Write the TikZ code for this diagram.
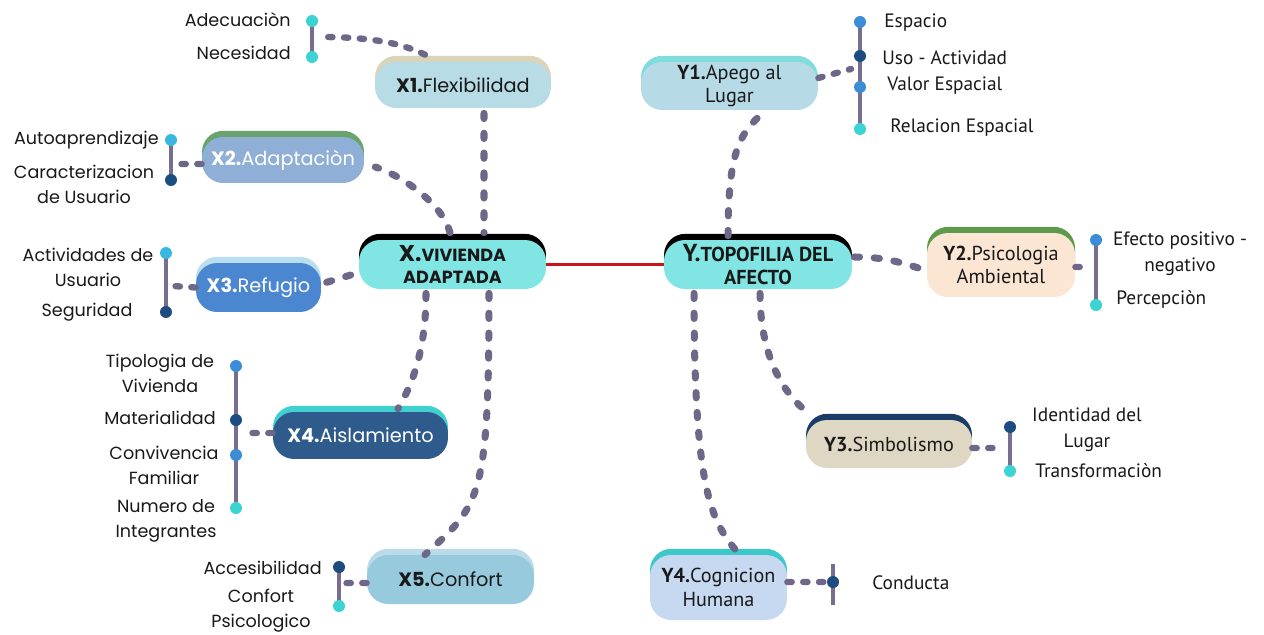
\documentclass[tikz,border=0pt]{standalone}
\usepackage{fontspec}
\setmainfont{Poppins}
\newfontfamily\condfont{PT Sans}
\usetikzlibrary{backgrounds}

% 颜色定义
\definecolor{linkGray}{HTML}{6F6788}
\definecolor{barGray}{HTML}{776E8F}
\definecolor{redLine}{HTML}{C4161C}
\definecolor{dotCyan}{HTML}{3CD3D3}
\definecolor{dotSky}{HTML}{38B7E3}
\definecolor{dotBlue}{HTML}{3A8DD6}
\definecolor{dotNavy}{HTML}{1D4C80}
\definecolor{coreFill}{HTML}{80E5E3}
\definecolor{flexFill}{HTML}{B8DCE6}
\definecolor{flexTop}{HTML}{D9D4BA}
\definecolor{adapFill}{HTML}{8FAFD7}
\definecolor{adapTop}{HTML}{6BA36D}
\definecolor{refuFill}{HTML}{4A87D0}
\definecolor{refuTop}{HTML}{BBDDF0}
\definecolor{aislFill}{HTML}{2F5A8C}
\definecolor{aislTop}{HTML}{40D0D0}
\definecolor{confFill}{HTML}{98CADE}
\definecolor{confTop}{HTML}{BCDBE8}
\definecolor{apegFill}{HTML}{B7DBE6}
\definecolor{apegTop}{HTML}{80DCDD}
\definecolor{psicFill}{HTML}{FBE6D4}
\definecolor{psicTop}{HTML}{5E9A4C}
\definecolor{simbFill}{HTML}{DDD7C4}
\definecolor{simbTop}{HTML}{1C3C68}
\definecolor{cogFill}{HTML}{C6D9F1}
\definecolor{cogTop}{HTML}{3DC9C9}

\begin{document}
\begin{tikzpicture}[
        % 坐标单位:1 = 参考图 1 像素 (y 向下)
        x=0.02cm, y=-0.02cm,
        pill/.style 2 args={rounded corners=12pt, fill=#1, inner sep=0pt, align=center,
            text=black!90, font=\fontsize{11}{13}\selectfont,
            preaction={fill=#2, transform canvas={yshift=3.5pt}}},
        pillY/.style={font=\condfont\fontsize{11.5}{13.5}\selectfont},
        dot/.style={circle, fill=#1, inner sep=0pt, minimum size=0.24cm},
        bar/.style={line width=2.2pt, barGray},
        % 虚线连线:圆头短划
        link/.style={line width=4pt, linkGray, line cap=round, dash pattern=on 3pt off 8.3pt},
        twig/.style={line width=3.6pt, linkGray, line cap=round, dash pattern=on 2.5pt off 6.5pt},
        core/.style={line width=1.8pt, redLine},
        lab/.style={inner sep=0pt, align=center, text=black!90, font=\fontsize{10}{14.2}\selectfont},
        labY/.style={inner sep=0pt, align=center, text=black!90, font=\condfont\fontsize{11}{14.6}\selectfont}
    ]

    \useasboundingbox (0,0) rectangle (1264,635);

    % --- 1. 中心节点 ---
    \node[pill={coreFill}{black}, minimum width=3.74cm, minimum height=0.98cm,
          font=\bfseries\fontsize{10}{13}\selectfont] (X) at (452.5,264.5)
          {{\fontsize{13}{13}\selectfont X.}VIVIENDA\\ADAPTADA};
    \node[pill={coreFill}{black}, minimum width=3.76cm, minimum height=0.98cm,
          font=\condfont\bfseries\fontsize{11.5}{13}\selectfont] (Y) at (758,264.5)
          {{\fontsize{14}{13}\selectfont Y.}TOPOFILIA DEL\\AFECTO};

    % --- 2. X 分支 ---
    \node[pill={flexFill}{flexTop}, minimum width=3.52cm, minimum height=0.92cm] (X1) at (463,85) {\textbf{X1.}Flexibilidad};
    \node[pill={adapFill}{adapTop}, minimum width=3.24cm, minimum height=0.92cm, text=white] (X2) at (283,160) {\textbf{X2.}Adaptaciòn};
    \node[pill={refuFill}{refuTop}, minimum width=2.5cm, minimum height=0.98cm, text=white] (X3) at (258.5,287.5) {\textbf{X3.}Refugio};
    \node[pill={aislFill}{aislTop}, minimum width=3.5cm, minimum height=0.94cm, text=white] (X4) at (360.5,435.5) {\textbf{X4.}Aislamiento};
    \node[pill={confFill}{confTop}, minimum width=3.34cm, minimum height=0.98cm] (X5) at (450.5,579.5) {\textbf{X5.}Confort};

    % --- 3. Y 分支 ---
    \node[pill={apegFill}{apegTop}, pillY, minimum width=3.54cm, minimum height=0.96cm] (Y1) at (729.5,86) {\textbf{Y1.}Apego al\\Lugar};
    \node[pill={psicFill}{psicTop}, pillY, minimum width=2.96cm, minimum height=1.28cm] (Y2) at (1001,265) {\textbf{Y2.}Psicologia\\Ambiental};
    \node[pill={simbFill}{simbTop}, pillY, minimum width=3.32cm, minimum height=0.96cm] (Y3) at (889,444) {\textbf{Y3.}Simbolismo};
    \node[pill={cogFill}{cogTop}, pillY, minimum width=2.74cm, minimum height=1.3cm] (Y4) at (718.5,587.5) {\textbf{Y4.}Cognicion\\Humana};

    % --- 4. 叶节点圆点与接点 ---
    \node[dot=dotCyan] (x1a) at (312,21) {};
    \node[dot=dotCyan] (x1b) at (312,57) {};
    \node[dot=dotSky]  (x2a) at (171,140) {};
    \node[dot=dotNavy] (x2b) at (171,180) {};
    \node[dot=dotSky]  (x3a) at (166,253) {};
    \node[dot=dotNavy] (x3b) at (166,312) {};
    \foreach \n/\yy/\c in {a/366/dotBlue, b/420/dotNavy, c/455/dotBlue, d/508/dotCyan}
        \node[dot=\c] (x4\n) at (236,\yy) {};
    \node[dot=dotNavy] (x5a) at (339,567) {};
    \node[dot=dotCyan] (x5b) at (339,606) {};
    \foreach \n/\yy/\c in {a/22/dotBlue, b/56/dotNavy, c/87/dotBlue, d/129/dotCyan}
        \node[dot=\c] (y1\n) at (860,\yy) {};
    \node[dot=dotBlue] (y2a) at (1096,240) {};
    \node[dot=dotCyan] (y2b) at (1096,305) {};
    \node[dot=dotNavy] (y3a) at (1010,427) {};
    \node[dot=dotCyan] (y3b) at (1010,471) {};
    \node[dot=dotNavy] (y4a) at (833,582) {};
    \coordinate (y4t) at (833,564);
    \coordinate (y4b) at (833,605);

    \coordinate (x1j) at (320,37);
    \coordinate (x2j) at (178,164);
    \coordinate (x3j) at (173,286);
    \coordinate (x4j) at (243,433);
    \coordinate (x5j) at (345,583);
    \coordinate (y1j) at (851,69);
    \coordinate (y2j) at (1089,267);
    \coordinate (y3j) at (1003,448);
    \coordinate (y4j) at (826,582);

    % --- 5. 叶节点文字 ---
    \node[lab, anchor=east] (lx1a) at (291,20) {Adecuaciòn};
    \node[lab, anchor=east] (lx1b) at (291,53) {Necesidad};
    \node[lab, anchor=east] (lx2a) at (159,140) {Autoaprendizaje};
    \node[lab] (lx2b) at (84,184.5) {Caracterizacion\\de Usuario};
    \node[lab] (lx3a) at (88,267.5) {Actividades de\\Usuario};
    \node[lab] (lx3b) at (87,312) {Seguridad};
    \node[lab] (lx4a) at (160,373.5) {Tipologia de\\Vivienda};
    \node[lab] (lx4b) at (160,418) {Materialidad};
    \node[lab] (lx4c) at (164,465.5) {Convivencia\\Familiar};
    \node[lab] (lx4d) at (166,520.5) {Numero de\\Integrantes};
    \node[lab, anchor=east] (lx5a) at (322,568) {Accesibilidad};
    \node[lab] (lx5b) at (261,610.5) {Confort\\Psicologico};

    \node[labY, anchor=west] (ly1a) at (884,23) {Espacio};
    \node[labY, anchor=west] (ly1b) at (882,58) {Uso - Actividad};
    \node[labY, anchor=west] (ly1c) at (887,86) {Valor Espacial};
    \node[labY, anchor=west] (ly1d) at (890,128) {Relacion Espacial};
    \node[labY] (ly2a) at (1180,254) {Efecto positivo -\\negativo};
    \node[labY, anchor=west] (ly2b) at (1116,299) {Percepciòn};
    \node[labY] (ly3a) at (1087,429.5) {Identidad del\\Lugar};
    \node[labY, anchor=west] (ly3b) at (1035,471) {Transformaciòn};
    \node[labY, anchor=west] (ly4a) at (872,583) {Conducta};

    % --- 6. 竖条 (背景层) ---
    \begin{scope}[on background layer]
        \fill[white] (0,0) rectangle (1264,635);
        \draw[bar] (x1a.center) -- (x1b.center);
        \draw[bar] (x2a.center) -- (x2b.center);
        \draw[bar] (x3a.center) -- (x3b.center);
        \draw[bar] (x4a.center) -- (x4d.center);
        \draw[bar] (x5a.center) -- (x5b.center);
        \draw[bar] (y1a.center) -- (y1d.center);
        \draw[bar] (y2a.center) -- (y2b.center);
        \draw[bar] (y3a.center) -- (y3b.center);
        \draw[bar] (y4t) -- (y4b);
    \end{scope}

    % --- 7. 主连线 ---
    \draw[core] (X.east) -- (Y.west);
    \draw[link] ([xshift=0.42cm,yshift=-0.1cm]X1.south) -- ([xshift=0.63cm,yshift=0.14cm]X.north);
    \draw[link] ([xshift=-0.05cm,yshift=0.14cm]X.north) .. controls +(-8,-30) and +(25,8) .. ([xshift=0.22cm,yshift=-0.14cm]X2.east);
    \draw[link] ([xshift=-0.16cm,yshift=-0.21cm]X.west) -- ([xshift=0.06cm,yshift=0.09cm]X3.east);
    \draw[link] ([xshift=-0.53cm,yshift=-0.08cm]X.south) .. controls +(0,55) and +(15,-25) .. ([xshift=0.75cm,yshift=0.06cm]X4.north);
    \draw[link] ([xshift=0.73cm,yshift=-0.08cm]X.south) .. controls +(0,207) and +(55,-50) .. ([xshift=-0.51cm]X5.north);
    \draw[link] ([xshift=-0.6cm,yshift=0.08cm]Y.north) .. controls +(0,-90) and +(-20,20) .. ([xshift=0.65cm,yshift=-0.06cm]Y1.south);
    \draw[link] ([xshift=0.04cm,yshift=0.15cm]Y.east) .. controls +(30,0) and +(-25,-8) .. ([xshift=-0.04cm,yshift=-0.1cm]Y2.west);
    \draw[link] ([xshift=0.04cm,yshift=-0.08cm]Y.south) .. controls +(0,60) and +(-25,-20) .. ([xshift=0.02cm,yshift=0.16cm]Y3.north west);
    \draw[link] ([xshift=-1.28cm,yshift=-0.08cm]Y.south) .. controls +(0,200) and +(-25,-30) .. ([xshift=0.37cm,yshift=0.06cm]Y4.north);

    % --- 8. 叶节点连线 ---
    \draw[twig] ([xshift=-0.76cm,yshift=0.14cm]X1.north) .. controls +(-25,-12) and +(50,0) .. (x1j);
    \draw[twig] ([yshift=-0.08cm]X2.west) -- (x2j);
    \draw[twig] (X3.west) -- (x3j);
    \draw[twig] ([yshift=0.05cm]X4.west) -- (x4j);
    \draw[twig] ([yshift=-0.07cm]X5.west) -- (x5j);
    \draw[twig] ([yshift=0.16cm]Y1.east) -- (y1j);
    \draw[twig] ([yshift=-0.04cm]Y2.east) -- (y2j);
    \draw[twig] ([yshift=-0.08cm]Y3.east) -- (y3j);
    \draw[twig] ([yshift=0.11cm]Y4.east) -- (y4j);

\end{tikzpicture}
\end{document}
